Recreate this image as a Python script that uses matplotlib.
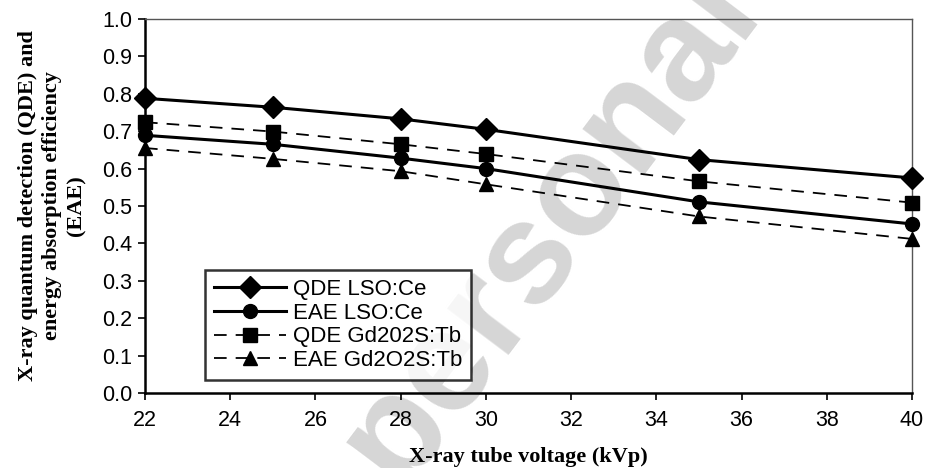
import matplotlib
matplotlib.use("Agg")
import matplotlib.pyplot as plt

plt.rcParams.update({
    "font.family": ["Liberation Sans", "DejaVu Sans"],
    "font.size": 15.5,
})

# Data
kvp = [22, 25, 28, 30, 35, 40]
qde_lso = [0.788, 0.764, 0.733, 0.705, 0.624, 0.575]
eae_lso = [0.689, 0.665, 0.628, 0.600, 0.511, 0.452]
qde_gd = [0.724, 0.699, 0.665, 0.639, 0.566, 0.509]
eae_gd = [0.655, 0.626, 0.593, 0.558, 0.472, 0.412]

series = [
    ("QDE LSO:Ce", qde_lso, "-", "D", 2.2),
    ("EAE LSO:Ce", eae_lso, "-", "o", 2.2),
    ("QDE Gd202S:Tb", qde_gd, (0, (7, 5)), "s", 1.3),
    ("EAE Gd2O2S:Tb", eae_gd, (0, (7, 5)), "^", 1.3),
]

fig = plt.figure(figsize=(9.28, 4.68), dpi=100)
ax = fig.add_axes([145 / 928, 1 - 393 / 468, 767 / 928, 374 / 468])
ax.set_facecolor("none")

# light diagonal watermark behind everything
fig.text(550 / 928, 1 - 226 / 468, "personal", rotation=53, fontsize=104,
         fontweight="bold", color="#d6d6d6", ha="center", va="center",
         zorder=-5)

for label, vals, ls, mk, lw in series:
    ax.plot(kvp, vals, color="black", linestyle=ls, linewidth=lw,
            marker=mk, markersize=10 if mk != "D" else 11.5,
            markerfacecolor="black", markeredgecolor="black",
            label=label, clip_on=False, zorder=3)

ax.set_xlim(22, 40)
ax.set_ylim(0, 1.0)
ax.set_xticks(range(22, 41, 2))
ax.set_yticks([i / 10 for i in range(11)])
ax.yaxis.set_major_formatter(matplotlib.ticker.FormatStrFormatter("%.1f"))

for side in ("left", "bottom"):
    ax.spines[side].set_linewidth(1.8)
    ax.spines[side].set_color("black")
for side in ("top", "right"):
    ax.spines[side].set_linewidth(1.0)
    ax.spines[side].set_color("#555555")

ax.tick_params(axis="both", direction="out", length=5, width=1.2,
               labelsize=15.5, colors="black")
ax.tick_params(axis="x", pad=7)
ax.tick_params(axis="y", pad=4)

ax.set_xlabel("X-ray tube voltage (kVp)", family="Liberation Serif",
              fontweight="bold", fontsize=16, labelpad=12)
ax.set_ylabel("X-ray quantum detection (QDE) and\nenergy absorption efficiency\n(EAE)",
              family="Liberation Serif", fontweight="bold", fontsize=16,
              labelpad=11, linespacing=1.3)

leg = ax.legend(loc="lower left", bbox_to_anchor=(0.078, 0.035),
                fontsize=16, frameon=True, fancybox=False, borderpad=0.4,
                handlelength=3.25, labelspacing=0.12, handletextpad=0.3,
                borderaxespad=0)
leg.get_frame().set_edgecolor("black")
leg.get_frame().set_linewidth(1.8)

fig.savefig("out.png", dpi=100)
plt.close(fig)
